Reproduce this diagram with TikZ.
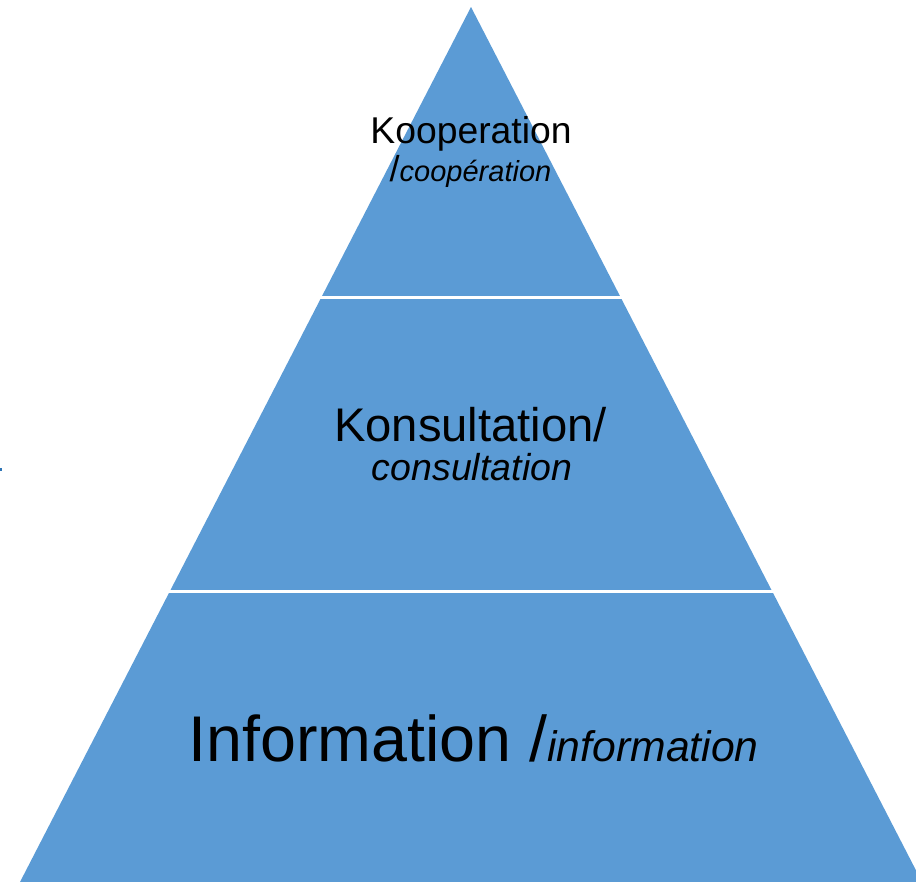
\documentclass[tikz,border=0pt]{standalone}
\usepackage{fontspec}
\setmainfont{Liberation Sans}
\definecolor{pyrblue}{HTML}{5B9BD5}
\definecolor{markblue}{HTML}{2E75B6}
\tikzset{
  lbl/.style={anchor=base, inner sep=0pt, text=black},
  sep/.style={draw=white, line width=3bp}
}
\begin{document}
\begin{tikzpicture}[x=1bp,y=-1bp]
\useasboundingbox (0,0) rectangle (916,882);
\clip (0,0) rectangle (916,882);
\coordinate (apex) at (471,7);
\coordinate (bl) at (20,882);
\coordinate (br) at (922,882);
\fill[pyrblue] (apex) -- (bl) -- (br) -- cycle;
\coordinate (s1l) at (319,297);
\coordinate (s1r) at (623,297);
\coordinate (s2l) at (167,591);
\coordinate (s2r) at (776,591);
\draw[sep] (s1l) -- (s1r);
\draw[sep] (s2l) -- (s2r);
\fill[markblue] (0,467.5) rectangle (1.6,471);
\node[lbl] (k1) at (471,143) {\fontsize{37.3bp}{40bp}\selectfont Kooperation};
\node[lbl] (k2) at (470.5,181) {\fontsize{36bp}{38bp}\selectfont /\fontsize{29bp}{32bp}\selectfont\itshape coopération};
\node[lbl] (c1) at (470.5,441) {\fontsize{47.2bp}{50bp}\selectfont Konsultation/};
\node[lbl] (c2) at (472,480) {\fontsize{37.5bp}{40bp}\selectfont\itshape consultation};
\node[lbl] (i1) at (473.5,761) {\fontsize{64.6bp}{66bp}\selectfont Information /{\fontsize{42.7bp}{44bp}\selectfont\itshape information}};
\end{tikzpicture}
\end{document}
